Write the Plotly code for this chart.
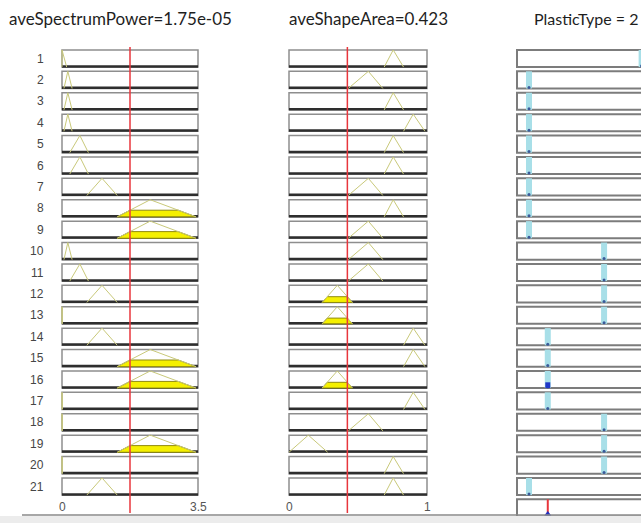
import plotly.graph_objects as go

# ---------------- data ----------------
RULES = list(range(1, 22))
TITLES = ["aveSpectrumPower=1.75e-05", "aveShapeArea=0.423", "PlasticType = 2"]
SPEC_VALUE = 1.75
SHAPE_VALUE = 0.423
SPEC_RANGE = [0.0, 3.5]
SHAPE_RANGE = [0.0, 1.0]
OUT_RANGE = [0.36, 7.66]
SPEC_TICKS = [0.0, 3.5]
SPEC_TICK_LABELS = ["0", "3.5"]
SHAPE_TICKS = [0.0, 1.0]
SHAPE_TICK_LABELS = ["0", "1"]

SPEC_MF = {
    "zero": [0.0, 0.0, 0.12],
    "edge": [0.0, 0.0, 0.01],
    "low": [0.05, 0.15, 0.26],
    "mlow": [0.2, 0.46, 0.68],
    "med": [0.64, 1.03, 1.42],
    "high": [1.42, 2.27, 3.45],
}
SHAPE_MF = {
    "vlow": [0.0, 0.14, 0.28],
    "lmed": [0.24, 0.35, 0.46],
    "med": [0.43, 0.575, 0.68],
    "high": [0.69, 0.755, 0.83],
    "vhigh": [0.83, 0.9, 0.985],
}
RULE_SPEC = ["zero", "low", "low", "low", "mlow", "mlow", "med", "high", "high", "low",
             "mlow", "med", "edge", "med", "high", "high", "edge", "edge", "high", "edge", "med"]
RULE_SHAPE = ["high", "med", "high", "vhigh", "high", "high", "med", "high", "med", "med",
              "med", "lmed", "lmed", "vhigh", "vhigh", "lmed", "vhigh", "med", "vlow", "high", "high"]
RULE_OUT = [7, 1, 1, 1, 1, 1, 1, 1, 1, 5, 5, 5, 5, 2, 2, 2, 2, 5, 5, 5, 1]

# ---------------- layout constants ----------------
W, HPX = 641, 523
ROW1_PX, ROW_STEP = 58.5, 21.4
HALF = 0.4
PAD = 7
COL_PX = [(62, 198), (289, 427), (517, 654)]

def tri(x, abc):
    a, b, c = abc
    if x < a or x > c:
        return 0.0
    if x <= b:
        return (x - a) / (b - a) if b > a else 1.0
    return (c - x) / (c - b) if c > b else 1.0

y_top = 1 - ROW1_PX / ROW_STEP
y_bot = 1 + (HPX - ROW1_PX) / ROW_STEP

def px_to_row(p):
    return 1 + (p - ROW1_PX) / ROW_STEP

def axis_cfg(px, rng, right_clip=False):
    p0, p1 = px
    scale = (rng[1] - rng[0]) / (p1 - p0)
    d0 = p0 - PAD
    d1 = W if right_clip else p1 + PAD
    return dict(domain=[d0 / W, min(d1 / W, 1.0)],
                range=[rng[0] - PAD * scale, rng[0] + (d1 - p0) * scale],
                visible=False, showgrid=False, zeroline=False, fixedrange=True)

fig = go.Figure()
shapes = []
annotations = []

OLIVE = "#c9c97a"
RED = "#e8363c"

ranges = [SPEC_RANGE, SHAPE_RANGE, OUT_RANGE]
xrefs = ["x", "x2", "x3"]

# boxes
for ci in range(3):
    rng = ranges[ci]
    nrows = 22 if ci == 2 else 21
    for i in range(1, nrows + 1):
        if ci < 2:
            shapes.append(dict(type="rect", xref=xrefs[ci], yref="y", x0=rng[0], x1=rng[1],
                               y0=i - HALF, y1=i + HALF, line=dict(color="#8e8e8e", width=1.5),
                               fillcolor="white", layer="below"))
            shapes.append(dict(type="line", xref=xrefs[ci], yref="y", x0=rng[0], x1=rng[1],
                               y0=i + HALF - 0.03, y1=i + HALF - 0.03,
                               line=dict(color="#2e2e2e", width=2.5), layer="below"))
        else:
            shapes.append(dict(type="rect", xref=xrefs[ci], yref="y", x0=rng[0], x1=rng[1],
                               y0=i - HALF, y1=i + HALF, line=dict(color="#7c7c7c", width=2),
                               fillcolor="white", layer="below"))

# input membership functions
strengths = []
for ci, (mfs, names, val) in enumerate([(SPEC_MF, RULE_SPEC, SPEC_VALUE),
                                         (SHAPE_MF, RULE_SHAPE, SHAPE_VALUE)]):
    xs, ys = [], []
    col_deg = []
    for i, name in zip(RULES, names):
        a, b, c = mfs[name]
        bot = i + HALF
        xs += [a, b, c, None]
        ys += [bot, bot - 2 * HALF, bot, None]
        deg = tri(val, mfs[name])
        col_deg.append(deg)
        if deg > 0:
            lvl = bot - 2 * HALF * deg
            fig.add_trace(go.Scatter(
                x=[a, a + deg * (b - a), c - deg * (c - b), c, a],
                y=[bot, lvl, lvl, bot, bot], xaxis=xrefs[ci], yaxis="y",
                mode="lines", fill="toself", fillcolor="#f5f000",
                line=dict(color="#8f8a10", width=1), hoverinfo="skip", showlegend=False))
    strengths.append(col_deg)
    fig.add_trace(go.Scatter(x=xs, y=ys, xaxis=xrefs[ci], yaxis="y", mode="lines",
                             line=dict(color=OLIVE, width=1), hoverinfo="skip", showlegend=False))

fire = [min(s1, s2) for s1, s2 in zip(strengths[0], strengths[1])]
OUT_VALUE = sum(w * z for w, z in zip(fire, RULE_OUT)) / sum(fire)

# output singletons
bx, by, dx, dy = [], [], [], []
for i, z in zip(RULES, RULE_OUT):
    bx += [z, z, None]
    by += [i - HALF, i + HALF, None]
    dx.append(z)
    dy.append(i + HALF - 0.05)
fig.add_trace(go.Scatter(x=bx, y=by, xaxis="x3", yaxis="y", mode="lines",
                         line=dict(color="#a8dfe8", width=6), hoverinfo="skip", showlegend=False))
fig.add_trace(go.Scatter(x=dx, y=dy, xaxis="x3", yaxis="y", mode="markers",
                         marker=dict(color="#3a5a9a", size=3), hoverinfo="skip", showlegend=False))
fx, fy = [], []
for i, z, w in zip(RULES, RULE_OUT, fire):
    if w > 0:
        fx += [z, z, None]
        fy += [i + HALF, i + HALF - 2 * HALF * w, None]
fig.add_trace(go.Scatter(x=fx, y=fy, xaxis="x3", yaxis="y", mode="lines",
                         line=dict(color="#2038c8", width=5), hoverinfo="skip", showlegend=False))

# aggregate output row
fig.add_trace(go.Scatter(x=[OUT_VALUE, OUT_VALUE], y=[22 - HALF, 22 + HALF - 0.1], xaxis="x3", yaxis="y",
                         mode="lines", line=dict(color=RED, width=2), hoverinfo="skip", showlegend=False))
fig.add_trace(go.Scatter(x=[OUT_VALUE], y=[22 + HALF - 0.12], xaxis="x3", yaxis="y", mode="markers",
                         marker=dict(symbol="triangle-up", color="#2030c0", size=6),
                         hoverinfo="skip", showlegend=False))

# input value red lines
for ci, val in enumerate([SPEC_VALUE, SHAPE_VALUE]):
    fig.add_trace(go.Scatter(x=[val, val], y=[px_to_row(47), px_to_row(513)], xaxis=xrefs[ci], yaxis="y",
                             mode="lines", line=dict(color=RED, width=1.5), hoverinfo="skip", showlegend=False))

# rule numbers
for i in RULES:
    annotations.append(dict(text=str(i), xref="paper", yref="y", x=46 / W, y=i, xanchor="right",
                            yanchor="middle", showarrow=False,
                            font=dict(family="Liberation Sans", size=12, color="#454545")))

# tick labels
for ci, (ticks, labels) in enumerate([(SPEC_TICKS, SPEC_TICK_LABELS), (SHAPE_TICKS, SHAPE_TICK_LABELS)]):
    for t, lab in zip(ticks, labels):
        annotations.append(dict(text=lab, xref=xrefs[ci], yref="y", x=t, y=px_to_row(507),
                                xanchor="center", yanchor="middle", showarrow=False,
                                font=dict(family="Liberation Sans", size=12, color="#555555")))

# titles
for tx, anchor, title in zip([7, 287, 640], ["left", "left", "right"], TITLES):
    annotations.append(dict(text=title, xref="paper", yref="paper", x=tx / W, y=1 - 18 / HPX,
                            xanchor=anchor, yanchor="middle", showarrow=False,
                            font=dict(family="Lato", size=17 if anchor == "left" else 16, color="#1e1e1e")))

# bottom frame
shapes.append(dict(type="rect", xref="paper", yref="paper", x0=0, x1=1, y0=0, y1=1 - 516 / HPX,
                   line=dict(width=0), fillcolor="#ececec", layer="above"))
shapes.append(dict(type="line", xref="paper", yref="paper", x0=22 / W, x1=1,
                   y0=1 - 515 / HPX, y1=1 - 515 / HPX, line=dict(color="#8a8a8a", width=1.5), layer="above"))

fig.update_layout(
    width=W, height=HPX, margin=dict(l=0, r=0, t=0, b=0),
    paper_bgcolor="white", plot_bgcolor="white",
    xaxis=axis_cfg(COL_PX[0], SPEC_RANGE) | dict(anchor="y"),
    xaxis2=axis_cfg(COL_PX[1], SHAPE_RANGE) | dict(anchor="y"),
    xaxis3=axis_cfg(COL_PX[2], OUT_RANGE, right_clip=True) | dict(anchor="y"),
    yaxis=dict(domain=[0, 1], range=[y_bot, y_top], visible=False, showgrid=False,
               zeroline=False, fixedrange=True),
    shapes=shapes, annotations=annotations, showlegend=False,
)

fig.write_html("out.html", config={"displayModeBar": False},
               post_script="document.body.style.margin='0';")
